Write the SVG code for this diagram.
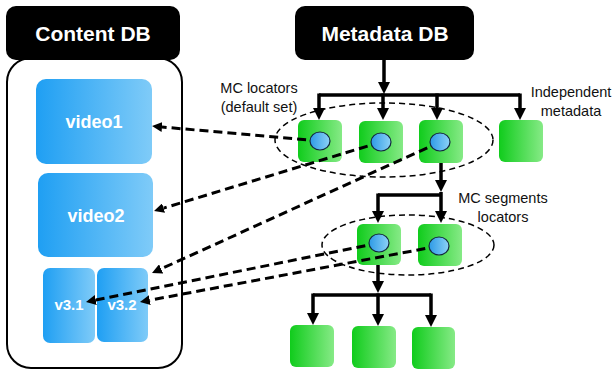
<svg xmlns="http://www.w3.org/2000/svg" width="613" height="372" viewBox="0 0 613 372">
<defs>
<linearGradient id="gBlue" x1="0" y1="0" x2="1" y2="0">
<stop offset="0" stop-color="#1f9ff3"/><stop offset="1" stop-color="#7fcbf8"/>
</linearGradient>
<linearGradient id="gGreen" x1="0" y1="0" x2="1" y2="0">
<stop offset="0" stop-color="#10cc1c"/><stop offset="1" stop-color="#86ea86"/>
</linearGradient>
<linearGradient id="gDot" x1="0" y1="0" x2="1" y2="0">
<stop offset="0" stop-color="#2d9ae6"/><stop offset="1" stop-color="#8dd2f7"/>
</linearGradient>
<marker id="ah" viewBox="0 0 12 12" markerWidth="12" markerHeight="12" refX="0" refY="6" orient="auto" markerUnits="userSpaceOnUse">
<path d="M0,0 L12,6 L0,12 z" fill="#000"/>
</marker>
<marker id="ahd" viewBox="0 0 10 10" markerWidth="10" markerHeight="10" refX="0" refY="5" orient="auto" markerUnits="userSpaceOnUse">
<path d="M0,0 L10,5 L0,10 z" fill="#000"/>
</marker>
</defs>
<style>
.hdr{fill:#000}
.hdrT{fill:#fff;font-family:"Liberation Sans",Arial,sans-serif;font-weight:bold;font-size:21px;text-anchor:middle}
.blue{fill:url(#gBlue)}
.blueT{fill:#fff;font-family:"Liberation Sans",Arial,sans-serif;font-weight:bold;text-anchor:middle}
.green{fill:url(#gGreen)}
.dot{fill:url(#gDot);stroke:#14283f;stroke-width:1.2}
.lbl{fill:#111;font-family:"Liberation Sans",Arial,sans-serif;font-size:14.5px;text-anchor:middle}
.tree{fill:none;stroke:#000;stroke-width:3.5}
.dash{fill:none;stroke:#000;stroke-width:3;stroke-dasharray:9,5}
.ell{fill:none;stroke:#000;stroke-width:1.5;stroke-dasharray:6,4}
</style>
<rect x="0" y="0" width="613" height="372" fill="#fff"/>

<g id="content-db">
<rect x="7" y="58" width="175" height="310" rx="24" fill="#fff" stroke="#000" stroke-width="2"/>
<rect class="hdr" x="6" y="6" width="174" height="54" rx="10"/>
<text class="hdrT" x="93" y="41">Content DB</text>
</g>
<g id="video1">
<rect class="blue" x="36" y="79" width="116" height="85" rx="10"/>
<text class="blueT" x="94" y="128" font-size="18">video1</text>
</g>
<g id="video2">
<rect class="blue" x="38" y="173" width="115" height="84" rx="10"/>
<text class="blueT" x="96" y="222" font-size="18">video2</text>
</g>
<g id="v3-1">
<rect class="blue" x="43" y="268" width="52" height="75" rx="7"/>
<text class="blueT" x="69" y="310" font-size="15">v3.1</text>
</g>
<g id="v3-2">
<rect class="blue" x="97" y="268" width="51" height="74" rx="7"/>
<text class="blueT" x="122" y="310" font-size="15">v3.2</text>
</g>

<g id="metadata-db">
<rect class="hdr" x="295" y="6" width="179" height="54" rx="10"/>
<text class="hdrT" x="385" y="41">Metadata DB</text>
</g>

<g id="mc-locators-group">
<ellipse class="ell" cx="384" cy="140" rx="109" ry="37"/>
<text class="lbl" x="259" y="93">MC locators</text>
<text class="lbl" x="259" y="112">(default set)</text>
</g>
<g id="loc1"><rect class="green" x="298" y="120" width="44" height="42" rx="6"/></g>
<g id="loc2"><rect class="green" x="359" y="121" width="44" height="42" rx="6"/></g>
<g id="loc3"><rect class="green" x="419" y="120" width="44" height="43" rx="6"/></g>
<g id="independent">
<rect class="green" x="499" y="120" width="44" height="42" rx="6"/>
<text class="lbl" x="571" y="97">Independent</text>
<text class="lbl" x="571" y="116">metadata</text>
</g>

<g id="mc-segments-group">
<ellipse class="ell" cx="408" cy="245" rx="86" ry="30"/>
<text class="lbl" x="503" y="203" font-size="15.5">MC segments</text>
<text class="lbl" x="503" y="222" font-size="15.5">locators</text>
</g>
<g id="seg1"><rect class="green" x="357" y="224" width="44" height="41" rx="6"/></g>
<g id="seg2"><rect class="green" x="418" y="224" width="44" height="42" rx="6"/></g>

<g id="leaf1"><rect class="green" x="290" y="325" width="44" height="42" rx="6"/></g>
<g id="leaf2"><rect class="green" x="352" y="326" width="44" height="42" rx="6"/></g>
<g id="leaf3"><rect class="green" x="412" y="327" width="43" height="42" rx="6"/></g>

<g id="connectors">
<line class="tree" x1="384" y1="60" x2="384" y2="82" marker-end="url(#ah)"/>
<path class="tree" d="M319,95 H520"/>
<line class="tree" x1="319" y1="93.5" x2="319" y2="108" marker-end="url(#ah)"/>
<line class="tree" x1="383" y1="93.5" x2="383" y2="108" marker-end="url(#ah)"/>
<line class="tree" x1="437" y1="93.5" x2="437" y2="108" marker-end="url(#ah)"/>
<line class="tree" x1="520" y1="93.5" x2="520" y2="108" marker-end="url(#ah)"/>

<line class="tree" x1="441" y1="163" x2="441" y2="180" marker-end="url(#ah)"/>
<path class="tree" d="M378,195 H441"/>
<line class="tree" x1="378" y1="193.5" x2="378" y2="211" marker-end="url(#ah)"/>
<line class="tree" x1="441" y1="192" x2="441" y2="211" marker-end="url(#ah)"/>

<line class="tree" x1="378" y1="265" x2="378" y2="281" marker-end="url(#ah)"/>
<path class="tree" d="M313,295 H431"/>
<line class="tree" x1="313" y1="293.5" x2="313" y2="313" marker-end="url(#ah)"/>
<line class="tree" x1="378" y1="293.5" x2="378" y2="314" marker-end="url(#ah)"/>
<line class="tree" x1="431" y1="293.5" x2="431" y2="315" marker-end="url(#ah)"/>

<line class="dash" x1="320" y1="141" x2="162" y2="127" marker-end="url(#ahd)"/>
<line class="dash" x1="381" y1="142" x2="163.6" y2="208.1" marker-end="url(#ahd)"/>
<line class="dash" x1="440" y1="142" x2="161.1" y2="268.9" marker-end="url(#ahd)"/>
<line class="dash" x1="379" y1="243" x2="95.8" y2="300" marker-end="url(#ahd)"/>
<line class="dash" x1="439" y1="246" x2="149.8" y2="300.2" marker-end="url(#ahd)"/>
</g>

<g id="locator-dots">
<ellipse class="dot" cx="320" cy="141" rx="10" ry="9"/>
<ellipse class="dot" cx="381" cy="142" rx="10" ry="9"/>
<ellipse class="dot" cx="440" cy="142" rx="10" ry="9"/>
<ellipse class="dot" cx="379" cy="243" rx="10" ry="9"/>
<ellipse class="dot" cx="439" cy="246" rx="10" ry="9"/>
</g>
</svg>
